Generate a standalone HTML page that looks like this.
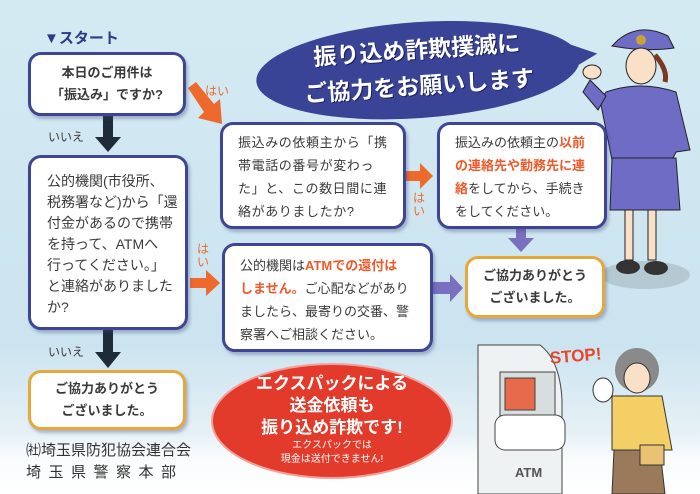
<!DOCTYPE html>
<html><head><meta charset="utf-8"><style>
*{margin:0;padding:0;box-sizing:border-box}
body{width:700px;height:494px;overflow:hidden;position:relative;font-family:"Liberation Sans","Noto Sans CJK JP",sans-serif;background:linear-gradient(#d4eaf3 0%,#cce4f0 70%,#e6f1f6 88%,#f8fbfc 92%,#fff 100%);color:#333}
.a{position:absolute}
.box{position:absolute;background:#fff;border:3px solid #3e4595;border-radius:13px;box-shadow:2px 3px 3px rgba(60,70,120,.35)}
.ob{border-color:#e6a838}
.t{position:absolute;white-space:nowrap;color:#3a3a3a}
.r{color:#ee5a2a;font-weight:bold}
</style></head><body>
<svg class="a" style="left:0;top:0" width="700" height="494">
<!-- bubble -->
<g transform="rotate(-4 420 70)">
<ellipse cx="418" cy="70" rx="162" ry="48" fill="#3a4496"/>
<polygon points="555,48 598,66 555,88" fill="#3a4496"/>
</g>
<!-- red ellipse -->
<ellipse cx="332" cy="421" rx="120" ry="57" fill="#e23b2c" stroke="#f4a09a" stroke-width="2"/>
<!-- arrows -->
<polygon points="103,115 113,115 113,137 121,137 108,152 95,137 103,137" fill="#1f2b38"/>
<polygon points="103,330 113,330 113,352 121,352 108,368 95,352 103,352" fill="#1f2b38"/>
<polygon points="188,88 196,82 214,104 220,99 222,124 198,118 204,112" fill="#ee6a2c"/>
<polygon points="406,171 420,171 420,163 433,176 420,189 420,181 406,181" fill="#ee6a2c"/>
<polygon points="190,278 206,278 206,270 220,283 206,296 206,288 190,288" fill="#ee6a2c"/>
<polygon points="433,282 450,282 450,274 463,288 450,302 450,294 433,294" fill="#7b6fc0"/>
<polygon points="516,228 526,228 526,238 534,238 521,252 508,238 516,238" fill="#7b6fc0"/>
<!-- police woman -->
<ellipse cx="645" cy="275" rx="45" ry="14" fill="#b5c9d3"/>
<path d="M618,40 Q640,22 668,36 L674,48 Q645,52 612,46 Z" fill="#6e6cc4" stroke="#222" stroke-width="1"/>
<circle cx="641" cy="40" r="5" fill="#c9a33a"/>
<ellipse cx="641" cy="66" rx="15" ry="18" fill="#fbe0c8" stroke="#222"/>
<path d="M655,55 Q668,70 665,82" stroke="#7a3a22" stroke-width="5" fill="none"/>
<path d="M606,92 Q640,80 676,92 L690,150 L676,152 L672,160 L612,160 L600,100 Z" fill="#6f6cc6" stroke="#222"/>
<path d="M590,80 L606,96 L598,110 L583,92 Z" fill="#6f6cc6" stroke="#222"/>
<ellipse cx="592" cy="72" rx="9" ry="7" fill="#fbe0c8" stroke="#222"/>
<path d="M612,158 L676,158 L680,210 L610,210 Z" fill="#6f6cc6" stroke="#222"/>
<rect x="625" y="210" width="8" height="50" fill="#fbe0c8" stroke="#222"/>
<rect x="648" y="210" width="8" height="50" fill="#fbe0c8" stroke="#222"/>
<ellipse cx="628" cy="267" rx="12" ry="7" fill="#333"/>
<ellipse cx="656" cy="268" rx="12" ry="7" fill="#333"/>
<!-- ATM -->
<path d="M478,345 L540,345 Q560,360 562,400 L562,494 L478,494 Z" fill="#eef2f2" stroke="#444"/>
<rect x="500" y="372" width="55" height="60" fill="#d8dede" stroke="#444"/>
<rect x="505" y="378" width="30" height="32" fill="#e86a4c" stroke="#444"/>
<rect x="495" y="415" width="70" height="35" rx="10" fill="#fff" stroke="#444"/>
<text x="515" y="477" font-size="13" font-weight="bold" fill="#555" font-family="Liberation Sans,sans-serif">ATM</text>
<text x="550" y="362" font-size="17" font-weight="bold" fill="#e8462a" font-family="Liberation Sans,sans-serif" transform="rotate(-5 570 358)">STOP!</text>
<!-- old woman -->
<ellipse cx="637" cy="370" rx="22" ry="22" fill="#8a8a8a"/>
<ellipse cx="637" cy="378" rx="13" ry="15" fill="#fbe0c8" stroke="#333"/>
<path d="M612,396 L662,396 L672,450 L612,450 Z" fill="#f4cf66" stroke="#333"/>
<path d="M614,450 L660,450 L665,494 L612,494 Z" fill="#9b7a5c" stroke="#333"/>
<rect x="640" y="445" width="24" height="20" fill="#e9c273" stroke="#333"/>
<ellipse cx="603" cy="390" rx="10" ry="12" fill="#fff" stroke="#333"/>
</svg>

<div class="t" style="left:44px;top:27px;font-size:15px;font-weight:bold;color:#2b3a86">▼スタート</div>

<div class="box" style="left:28px;top:52px;width:158px;height:64px"></div>
<div class="t" style="left:28px;top:62px;width:158px;text-align:center;font-size:13px;font-weight:bold;line-height:22px">本日のご用件は<br>「振込み」ですか?</div>
<div class="t" style="left:205px;top:82px;font-size:12px;color:#ee6a2c">はい</div>
<div class="t" style="left:48px;top:128px;font-size:12px">いいえ</div>

<div class="box" style="left:28px;top:155px;width:160px;height:175px"></div>
<div class="t" style="left:47px;top:171px;font-size:14px;line-height:21px">公的機関(市役所、<br>税務署など)から「還<br>付金があるので携帯<br>を持って、ATMへ<br>行ってください。」<br>と連絡がありました<br>か?</div>
<div class="t" style="left:48px;top:343px;font-size:12px">いいえ</div>

<div class="box ob" style="left:28px;top:370px;width:158px;height:60px"></div>
<div class="t" style="left:28px;top:378px;width:158px;text-align:center;font-size:13px;font-weight:bold;line-height:22px">ご協力ありがとう<br>ございました。</div>

<div class="box" style="left:220px;top:122px;width:186px;height:107px"></div>
<div class="t" style="left:238px;top:131px;font-size:13px;line-height:23px;letter-spacing:.6px">振込みの依頼主から「携<br>帯電話の番号が変わっ<br>た」と、この数日間に連<br>絡がありましたか?</div>
<div class="t" style="left:413px;top:192px;font-size:12px;color:#ee6a2c;line-height:13px;width:14px">は<br>い</div>

<div class="box" style="left:437px;top:122px;width:170px;height:107px"></div>
<div class="t" style="left:455px;top:131px;font-size:13px;line-height:23px">振込みの依頼主の<span class="r">以前</span><br><span class="r">の連絡先や勤務先に連</span><br><span class="r">絡</span>をしてから、手続き<br>をしてください。</div>

<div class="box ob" style="left:465px;top:256px;width:140px;height:62px"></div>
<div class="t" style="left:465px;top:265px;width:140px;text-align:center;font-size:13px;font-weight:bold;line-height:22px">ご協力ありがとう<br>ございました。</div>

<div class="t" style="left:197px;top:243px;font-size:12px;color:#ee6a2c;line-height:13px;width:14px">は<br>い</div>
<div class="box" style="left:222px;top:243px;width:211px;height:109px"></div>
<div class="t" style="left:240px;top:254px;font-size:13px;line-height:23px">公的機関は<span class="r">ATMでの還付は</span><br><span class="r">しません。</span>ご心配などがあり<br>ましたら、最寄りの交番、警<br>察署へご相談ください。</div>

<div class="t" style="left:258px;top:32px;width:320px;text-align:center;color:#fff;font-weight:bold;font-size:23px;line-height:36px;transform:rotate(-4deg);text-shadow:1px 1px 0 #1a2060">振り込め詐欺撲滅に<br>ご協力をお願いします</div>

<div class="t" style="left:212px;top:373px;width:240px;text-align:center;color:#fff;font-weight:bold;font-size:17px;line-height:22px">エクスパックによる<br>送金依頼も<br>振り込め詐欺です!</div>
<div class="t" style="left:212px;top:439px;width:240px;text-align:center;color:#fff;font-size:10px;line-height:14px">エクスパックでは<br>現金は送付できません!</div>

<div class="t" style="left:26px;top:440px;font-size:15px;line-height:22px;color:#333">㈳埼玉県防犯協会連合会<br><span style="letter-spacing:7.5px">埼玉県警察本部</span></div>
</body></html>
